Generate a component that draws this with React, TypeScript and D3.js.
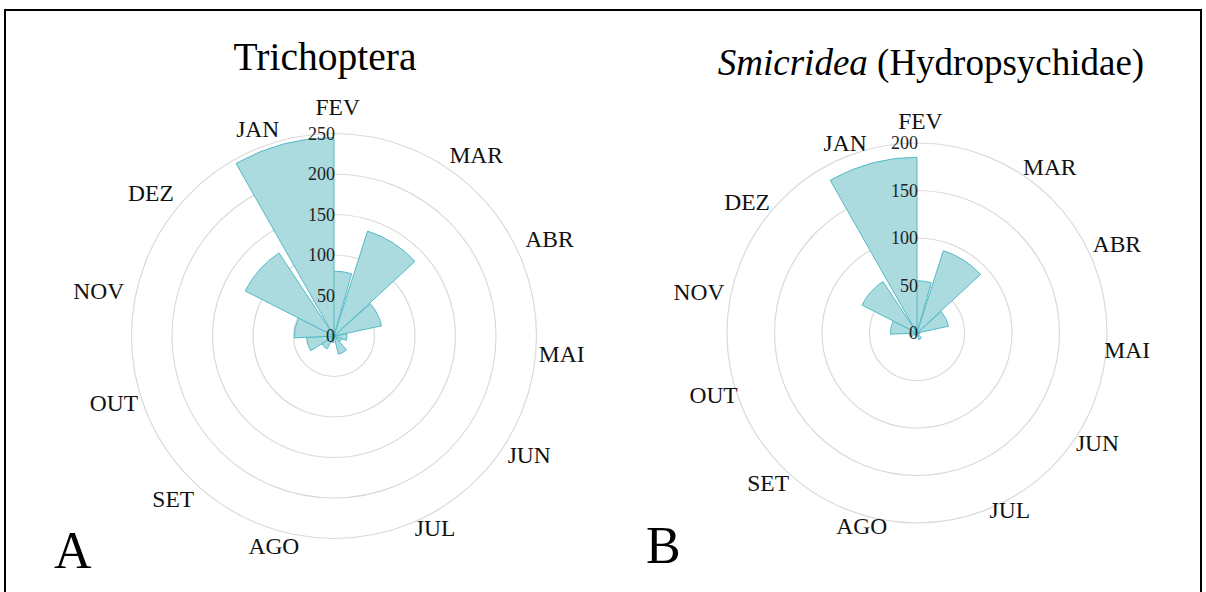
import React from 'react';
import * as d3 from 'd3';

// Month categories (Portuguese abbreviations)
const months = ['JAN', 'FEV', 'MAR', 'ABR', 'MAI', 'JUN', 'JUL', 'AGO', 'SET', 'OUT', 'NOV', 'DEZ'];
// Day of year of each monthly collection (defines angular position)
const samplingDay = [17, 33, 65, 96, 128, 156, 186, 231, 258, 288, 318, 348];
// Abundance per month
const trichopteraValues = [245, 80, 136, 60, 16, 10, 23, 8, 18, 34, 49, 123];
const smicrideaValues = [185, 55, 91, 34, 3, 2, 7, 2, 3, 8, 28, 65];
// Radial tick labels
const trichopteraTicks = [0, 50, 100, 150, 200, 250];
const smicrideaTicks = [0, 50, 100, 150, 200];

const BAR_DAYS = 30;
const FONT = '"Liberation Serif", "Times New Roman", serif';

type RoseProps = {
  id: string;
  cx: number;
  cy: number;
  outerR: number;
  labelPad: number;
  ticks: number[];
  values: number[];
};

function Rose({ id, cx, cy, outerR, labelPad, ticks, values }: RoseProps) {
  const maxV = ticks[ticks.length - 1];
  const r = d3.scaleLinear().domain([0, maxV]).range([0, outerR]);
  const theta = d3.scaleLinear().domain([32, 32 + 365]).range([0, 2 * Math.PI]);
  const arc = d3.arc<any>();

  const bars = months
    .map((m, i) => ({ m, v: values[i], day: samplingDay[i] }))
    .sort((a, b) => a.v - b.v);

  const labelR = outerR + labelPad;

  return (
    <g>
      <defs>
        <radialGradient id={id} gradientUnits="userSpaceOnUse" cx={cx} cy={cy} r={outerR}>
          <stop offset="0%" stopColor="#8bcdd6" />
          <stop offset="100%" stopColor="#abdadf" />
        </radialGradient>
      </defs>
      {ticks.filter((t) => t > 0).map((t) => (
        <circle key={t} cx={cx} cy={cy} r={r(t)} fill="none" stroke="#dadada" strokeWidth={1.2} />
      ))}
      {bars.map((b) => {
        const d = arc({
          innerRadius: 0,
          outerRadius: r(b.v),
          startAngle: theta(b.day - BAR_DAYS / 2),
          endAngle: theta(b.day + BAR_DAYS / 2),
        }) as string;
        return (
          <path
            key={b.m}
            d={d}
            transform={`translate(${cx},${cy})`}
            fill={`url(#${id})`}
            stroke="#52bbc5"
            strokeWidth={1}
            strokeLinejoin="round"
          />
        );
      })}
      {ticks.map((t) => (
        <text
          key={t}
          x={cx + 1}
          y={cy - r(t)}
          textAnchor="end"
          dominantBaseline="central"
          fontFamily={FONT}
          fontSize={18}
          fill="#222"
        >
          {t}
        </text>
      ))}
      {months.map((m, i) => {
        const a = theta(samplingDay[i]);
        const s = Math.sin(a);
        const c = Math.cos(a);
        const top = c > 0;
        const mid = top ? Math.abs(s) < 0.2 : Math.abs(s) < 0.5;
        const anchor = mid ? 'middle' : s > 0 ? 'start' : 'end';
        let x = cx + labelR * s;
        let y = cy - labelR * c;
        if (!top) y += -c * 8;
        if (mid) y += top ? -15 : -4;
        if (!top && !mid) x -= s * 9;
        return (
          <text
            key={m}
            x={x}
            y={y}
            textAnchor={anchor}
            dominantBaseline="central"
            fontFamily={FONT}
            fontSize={23.5}
            fill="#111"
          >
            {m}
          </text>
        );
      })}
    </g>
  );
}

export default function App() {
  return (
    <svg
      width={1206}
      height={592}
      style={{ position: 'absolute', left: 0, top: 0, background: '#fff' }}
    >
      <rect x={0} y={0} width={1206} height={592} fill="#fff" />
      <rect x={5} y={10} width={1196} height={600} fill="none" stroke="#000" strokeWidth={2} />
      <text x={325} y={70} textAnchor="middle" fontFamily={FONT} fontSize={39.5} fill="#000">
        Trichoptera
      </text>
      <text x={931} y={75} textAnchor="middle" fontFamily={FONT} fontSize={37} fill="#000">
        <tspan fontStyle="italic">Smicridea</tspan> (Hydropsychidae)
      </text>
      <Rose id="gA" cx={334} cy={336} outerR={202.5} labelPad={12} ticks={trichopteraTicks} values={trichopteraValues} />
      <Rose id="gB" cx={917} cy={333} outerR={190} labelPad={7} ticks={smicrideaTicks} values={smicrideaValues} />
      <text x={54} y={568} fontFamily={FONT} fontSize={52} fill="#000">A</text>
      <text x={646} y={563} fontFamily={FONT} fontSize={52} fill="#000">B</text>
    </svg>
  );
}
